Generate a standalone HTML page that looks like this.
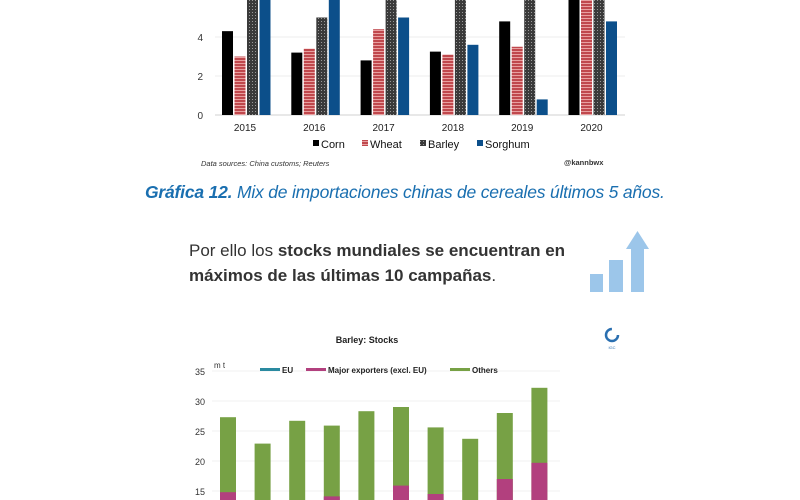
<!DOCTYPE html>
<html><head><meta charset="utf-8"><style>
html,body{margin:0;padding:0;background:#fff;}
body{width:800px;height:500px;overflow:hidden;position:relative;font-family:"Liberation Sans",sans-serif;}
.cap{position:absolute;left:145px;top:182px;font-size:17.5px;color:#1a6fb0;font-style:italic;white-space:nowrap;letter-spacing:-0.2px;}
.cap b{font-weight:bold;}
.para{position:absolute;left:189px;top:238px;font-size:17px;line-height:25px;color:#333;}
.para b{color:#333;}
</style></head><body>
<svg id="topc" width="800" height="175" style="position:absolute;left:0;top:0"></svg>
<div class="cap"><b>Gráfica 12.</b> Mix de importaciones chinas de cereales últimos 5 años.</div>
<div class="para">Por ello los <b>stocks mundiales se encuentran en</b><br><b>máximos de las últimas 10 campañas</b>.</div>
<svg width="800" height="300" style="position:absolute;left:0;top:0">
<rect x="590" y="274" width="13" height="18" fill="#9cc6ea"/>
<rect x="609" y="260" width="14" height="32" fill="#9cc6ea"/>
<rect x="631" y="248" width="13" height="44" fill="#9cc6ea"/>
<polygon points="626,249 637.5,231 649,249" fill="#9cc6ea"/>
</svg>
<svg id="bot" width="800" height="500" style="position:absolute;left:0;top:0"></svg>
<script>
const years=["2015","2016","2017","2018","2019","2020"];
const corn=[4.3,3.2,2.8,3.25,4.8,8];
const wheat=[3.0,3.4,4.4,3.1,3.5,8];
const barley=[7,5.0,7,7,7,7];
const sorghum=[7,7,5.0,3.6,0.8,4.8];
const topTicks=[0,2,4];
const bTotals=[27.3,22.9,26.7,25.9,28.3,29.0,25.6,23.7,28.0,32.2];
const bMajor=[14.8,13.0,13.5,14.1,13.5,15.9,14.5,12.5,17.0,19.7];
const bEU=[6,5,6,6,7,7,6,5,6,7];
const bTicks=[15,20,25,30,35];
const NS="http://www.w3.org/2000/svg";
function mk(p,t,a,txt){const e=document.createElementNS(NS,t);for(const k in a)e.setAttribute(k,a[k]);if(txt!=null)e.textContent=txt;p.appendChild(e);return e;}
const topSvg=document.getElementById('topc');
const defs=mk(topSvg,'defs',{});
const pw=mk(defs,'pattern',{id:'pw',width:3,height:3,patternUnits:'userSpaceOnUse'});
mk(pw,'rect',{width:3,height:3,fill:'#c0484d'});mk(pw,'rect',{width:3,height:1,fill:'#e8a0a0'});
const pb=mk(defs,'pattern',{id:'pb',width:3,height:3,patternUnits:'userSpaceOnUse'});
mk(pb,'rect',{width:3,height:3,fill:'#3a3a3a'});mk(pb,'rect',{width:1,height:1,fill:'#999'});
const y0=115,ppu=19.5;
function ty(v){return Math.max(0,y0-v*ppu);}
function gx(i){return 245+i*69.3;}
topTicks.forEach(t=>{
 const g=mk(topSvg,'line',{x1:215,x2:625,y1:y0-t*ppu,y2:y0-t*ppu,stroke:t==0?'#d0d0d0':'#ececec','stroke-width':1});
 
 
 const l=mk(topSvg,'text',{x:203,y:y0-t*ppu+4,'font-size':10,'text-anchor':'end',fill:'#333'},String(t));
 
 
});
const series=[[corn,'#000','corn'],[wheat,'url(#pw)','wheat'],[barley,'url(#pb)','barley'],[sorghum,'#0c4f8a','sorghum']];
years.forEach((yr,i)=>{
 series.forEach((s,j)=>{
  const x=gx(i)-23+j*12.5,y=ty(s[0][i]);
  const r=mk(topSvg,'rect',{x:x,y:y,width:11,height:y0-y,fill:s[1]});
  
  
 });
 const l=mk(topSvg,'text',{x:gx(i),y:131,'font-size':10,'text-anchor':'middle',fill:'#222'},yr);
 
 
});
const leg=[['Corn','#000',313],['Wheat','url(#pw)',362],['Barley','url(#pb)',420],['Sorghum','#0c4f8a',477]];
leg.forEach(L=>{
 const r=mk(topSvg,'rect',{x:L[2],y:140,width:6,height:6,fill:L[1]});
 
 
 const t=mk(topSvg,'text',{x:L[2]+8,y:148,'font-size':11,fill:'#111'},L[0]);
 
 
});
const ds=mk(topSvg,'text',{x:201,y:166,'font-size':7.5,'font-style':'italic',fill:'#333'},'Data sources: China customs; Reuters');


const kb=mk(topSvg,'text',{x:564,y:165,'font-size':7.5,'font-weight':'bold',fill:'#333'},'@kannbwx');



const bot=document.getElementById('bot');
const BOTTOM=500;
function by(v){return 371+(35-v)*6.0;}
function bx(i){return 228+i*34.6;}
function seg(v){const y=Math.min(by(v),BOTTOM);return {y:y,h:Math.max(0,Math.min(by(0),BOTTOM)-y)};}
bTicks.forEach(t=>{
 const g=mk(bot,'line',{x1:212,x2:560,y1:by(t),y2:by(t),stroke:'#f0f0f0'});
 
 
 const l=mk(bot,'text',{x:205,y:by(t)+4,'font-size':9,'text-anchor':'end',fill:'#333'},String(t));
 
 
});
bTotals.forEach((v,i)=>{
 const a=seg(v),b=seg(bMajor[i]),c=seg(bEU[i]);
 const r1=mk(bot,'rect',{x:bx(i)-8,y:a.y,width:16,height:a.h,fill:'#77a145'});
 
 
 const r2=mk(bot,'rect',{x:bx(i)-8,y:b.y,width:16,height:b.h,fill:'#b2407e'});
 
 
 const r3=mk(bot,'rect',{x:bx(i)-8,y:c.y,width:16,height:c.h,fill:'#2a8aa0'});
 
 
});
const tt=mk(bot,'text',{x:367,y:343,'font-size':9,'font-weight':'bold','text-anchor':'middle',fill:'#222'},'Barley: Stocks');


const mt=mk(bot,'text',{x:214,y:368,'font-size':8,fill:'#333'},'m t');


[['EU','#2a8aa0',260],['Major exporters (excl. EU)','#b2407e',306],['Others','#77a145',450]].forEach(L=>{
 const r=mk(bot,'rect',{x:L[2],y:368,width:20,height:3,fill:L[1]});
 
 
 const t=mk(bot,'text',{x:L[2]+22,y:373,'font-size':8,'font-weight':'bold',fill:'#222'},L[0]);
 
 
});
const lg=mk(bot,'circle',{cx:612,cy:335,r:6,fill:'none',stroke:'#2a6fb0','stroke-width':2.5,'stroke-dasharray':'28 10'});


const lt=mk(bot,'text',{x:612,y:349,'font-size':4,'text-anchor':'middle',fill:'#2a6fb0'},'IGC');


</script>
</body></html>
